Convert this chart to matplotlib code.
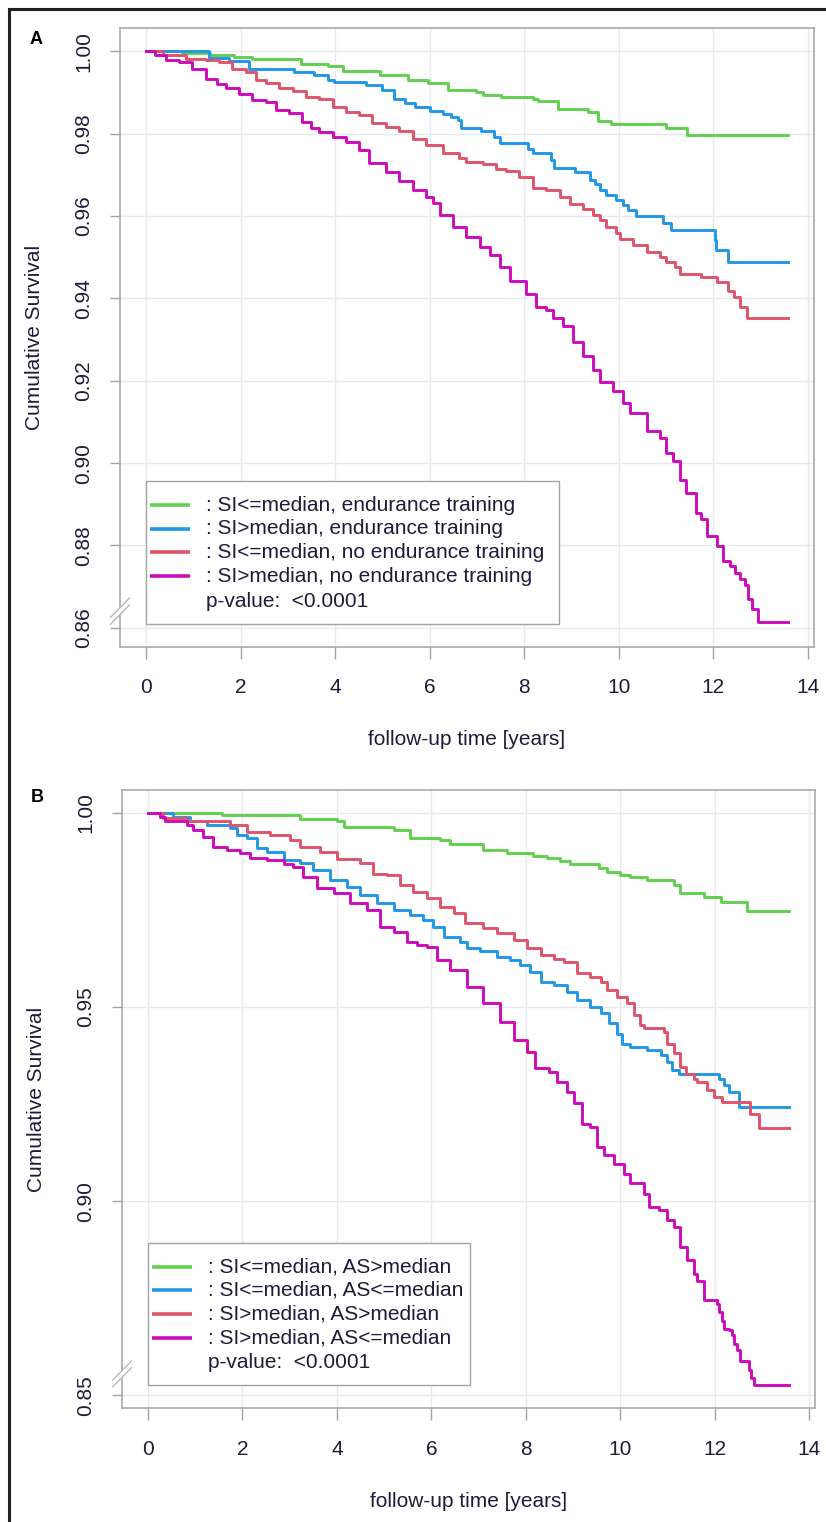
import matplotlib
matplotlib.use("Agg")
import matplotlib.pyplot as plt
from matplotlib.lines import Line2D
from matplotlib.patches import Rectangle, Polygon

plt.rcParams['font.family'] = ['Liberation Sans', 'DejaVu Sans']

# colours (R4 palette)
GREEN, BLUE, RED, MAGENTA = '#61D04F', '#2297E6', '#DF536B', '#CD0BBC'
TXT = '#1d1d3b'
AXC = '#a3a3a3'
GRID = '#e6e9f0'

# ---------------- panel A data (time in years, survival) ----------------
a_green_t = [0, 0.76, 1.35, 1.86, 2.25, 3.28, 3.84, 4.16, 4.94, 5.54, 5.96, 6.38, 6.98, 7.12,
             7.51, 8.18, 8.29, 8.71, 9.35, 9.56, 9.84, 11.0, 11.45, 13.59]
a_green_s = [1.0, 0.9997, 0.9992, 0.9986, 0.9981, 0.9970, 0.9964, 0.9952, 0.9942, 0.9930, 0.9923,
             0.9907, 0.9901, 0.9895, 0.9889, 0.9884, 0.9879, 0.9861, 0.9853, 0.9831, 0.9823,
             0.9813, 0.9798, 0.9798]

a_blue_t = [0, 1.33, 1.76, 2.18, 3.14, 3.56, 3.84, 3.98, 4.65, 5.0, 5.25, 5.47, 5.68, 6.0, 6.28,
            6.45, 6.59, 6.67, 7.09, 7.37, 7.48, 8.08, 8.18, 8.57, 8.64, 9.07, 9.39, 9.5, 9.6,
            9.74, 9.95, 10.09, 10.2, 10.37, 10.94, 11.11, 12.03, 12.06, 12.32, 13.59]
a_blue_s = [1.0, 0.9985, 0.9976, 0.9958, 0.9950, 0.9942, 0.9930, 0.9926, 0.9918, 0.9905, 0.9885,
            0.9875, 0.9865, 0.9855, 0.9849, 0.9841, 0.9834, 0.9813, 0.9806, 0.9792, 0.9778,
            0.9764, 0.9752, 0.9736, 0.9716, 0.9706, 0.9687, 0.9678, 0.9663, 0.9651, 0.9639,
            0.9627, 0.9615, 0.9600, 0.9584, 0.9566, 0.9542, 0.9518, 0.9488, 0.9488]

a_red_t = [0, 0.35, 0.84, 1.26, 1.55, 1.82, 2.11, 2.33, 2.54, 2.82, 3.1, 3.38, 3.67, 3.95, 4.23,
           4.51, 4.79, 5.08, 5.36, 5.64, 5.93, 6.28, 6.63, 6.77, 7.13, 7.41, 7.62, 7.9, 8.18,
           8.47, 8.75, 8.96, 9.24, 9.46, 9.6, 9.74, 9.95, 10.02, 10.3, 10.59, 10.87, 11.01,
           11.19, 11.29, 11.75, 12.07, 12.32, 12.43, 12.56, 12.71, 13.59]
a_red_s = [1.0, 0.9990, 0.9982, 0.9978, 0.9974, 0.9958, 0.9950, 0.9930, 0.9922, 0.9910, 0.9904,
           0.9889, 0.9885, 0.9865, 0.9853, 0.9845, 0.9825, 0.9817, 0.9806, 0.9786, 0.9772,
           0.9752, 0.9742, 0.9732, 0.9726, 0.9714, 0.9710, 0.9695, 0.9669, 0.9663, 0.9647,
           0.9629, 0.9617, 0.9602, 0.9590, 0.9574, 0.9558, 0.9544, 0.9530, 0.9513, 0.9501,
           0.9489, 0.9477, 0.9459, 0.9453, 0.9441, 0.9417, 0.9404, 0.9380, 0.9352, 0.9352]

a_mag_t = [0, 0.2, 0.42, 0.7, 0.98, 1.26, 1.5, 1.69, 1.97, 2.25, 2.54, 2.75, 3.03, 3.31, 3.5,
           3.67, 3.95, 4.23, 4.51, 4.72, 5.08, 5.36, 5.64, 5.93, 6.07, 6.21, 6.49, 6.77, 7.06,
           7.27, 7.48, 7.69, 8.04, 8.26, 8.47, 8.61, 8.82, 9.03, 9.24, 9.46, 9.6, 9.88, 10.09,
           10.23, 10.59, 10.87, 11.01, 11.15, 11.29, 11.43, 11.64, 11.75, 11.86, 12.07, 12.21,
           12.35, 12.46, 12.56, 12.67, 12.74, 12.81, 12.95, 13.59]
a_mag_s = [1.0, 0.9990, 0.9978, 0.9974, 0.9958, 0.9934, 0.9920, 0.9910, 0.9897, 0.9881, 0.9877,
           0.9857, 0.9850, 0.9829, 0.9815, 0.9804, 0.9792, 0.9780, 0.9760, 0.9728, 0.9707,
           0.9685, 0.9663, 0.9647, 0.9631, 0.9602, 0.9574, 0.9548, 0.9526, 0.9505, 0.9477,
           0.9443, 0.9411, 0.9380, 0.9372, 0.9352, 0.9332, 0.9295, 0.9259, 0.9227, 0.9198,
           0.9174, 0.9146, 0.9122, 0.9077, 0.9061, 0.9025, 0.9004, 0.8960, 0.8928, 0.8879,
           0.8863, 0.8823, 0.8798, 0.8762, 0.8750, 0.8734, 0.8718, 0.8705, 0.8669, 0.8645,
           0.8613, 0.8613]

# ---------------- panel B data ----------------
b_green_t = [0, 1.56, 3.22, 4.0, 4.14, 5.2, 5.55, 6.19, 6.4, 7.1, 7.6, 8.16, 8.45, 8.73, 8.94,
             9.54, 9.72, 10.0, 10.21, 10.57, 11.13, 11.27, 11.77, 12.12, 12.68, 13.57]
b_green_s = [1.0, 0.9995, 0.9984, 0.9979, 0.9965, 0.9956, 0.9935, 0.9930, 0.9919, 0.9905, 0.9896,
             0.9890, 0.9883, 0.9875, 0.9869, 0.9857, 0.9849, 0.9840, 0.9834, 0.9827, 0.9814,
             0.9795, 0.9784, 0.9771, 0.9748, 0.9748]

b_blue_t = [0, 0.54, 0.89, 1.24, 1.74, 1.88, 2.09, 2.3, 2.51, 2.87, 3.22, 3.5, 3.86, 4.21, 4.49,
            4.85, 5.2, 5.55, 5.83, 6.04, 6.26, 6.61, 6.75, 7.03, 7.39, 7.67, 7.88, 8.09, 8.31,
            8.59, 8.87, 9.08, 9.36, 9.58, 9.75, 9.93, 10.04, 10.21, 10.57, 10.85, 10.99, 11.09,
            11.24, 12.09, 12.2, 12.3, 12.51, 13.57]
b_blue_s = [1.0, 0.9990, 0.9978, 0.9969, 0.9960, 0.9943, 0.9935, 0.9909, 0.9900, 0.9879, 0.9870,
            0.9853, 0.9827, 0.9810, 0.9789, 0.9767, 0.9750, 0.9737, 0.9724, 0.9707, 0.9680,
            0.9668, 0.9651, 0.9645, 0.9630, 0.9621, 0.9608, 0.9591, 0.9565, 0.9557, 0.9539,
            0.9518, 0.9501, 0.9484, 0.9458, 0.9432, 0.9406, 0.9398, 0.9389, 0.9376, 0.9359,
            0.9338, 0.9329, 0.9316, 0.9299, 0.9282, 0.9243, 0.9243]

b_red_t = [0, 0.32, 0.82, 1.74, 2.09, 2.58, 3.01, 3.22, 3.64, 4.0, 4.49, 4.77, 5.06, 5.34, 5.62,
           5.9, 6.19, 6.47, 6.72, 7.1, 7.39, 7.74, 8.02, 8.31, 8.59, 8.8, 9.08, 9.36, 9.58, 9.72,
           9.93, 10.14, 10.28, 10.42, 10.49, 10.92, 10.99, 11.13, 11.27, 11.38, 11.55, 11.62,
           11.84, 11.98, 12.16, 12.75, 12.93, 13.57]
b_red_s = [1.0, 0.9986, 0.9978, 0.9969, 0.9952, 0.9943, 0.9930, 0.9912, 0.9900, 0.9881, 0.9870,
           0.9843, 0.9840, 0.9814, 0.9797, 0.9780, 0.9758, 0.9743, 0.9716, 0.9704, 0.9691,
           0.9673, 0.9651, 0.9634, 0.9625, 0.9617, 0.9588, 0.9578, 0.9565, 0.9544, 0.9527,
           0.9510, 0.9480, 0.9454, 0.9445, 0.9436, 0.9406, 0.9381, 0.9346, 0.9329, 0.9316,
           0.9308, 0.9286, 0.9269, 0.9256, 0.9226, 0.9190, 0.9190]

b_mag_t = [0, 0.25, 0.36, 0.82, 0.96, 1.17, 1.38, 1.67, 1.95, 2.16, 2.51, 2.87, 3.08, 3.29, 3.57,
           3.93, 4.28, 4.63, 4.92, 5.2, 5.48, 5.69, 5.9, 6.12, 6.4, 6.75, 7.1, 7.46, 7.74, 8.02,
           8.2, 8.48, 8.66, 8.87, 9.02, 9.19, 9.36, 9.51, 9.65, 9.86, 10.07, 10.21, 10.49, 10.6,
           10.81, 10.99, 11.13, 11.27, 11.41, 11.55, 11.62, 11.77, 12.05, 12.08, 12.15, 12.2,
           12.29, 12.36, 12.4, 12.47, 12.53, 12.72, 12.77, 12.82, 13.58]
b_mag_s = [1.0, 0.9990, 0.9978, 0.9969, 0.9956, 0.9939, 0.9913, 0.9905, 0.9896, 0.9883, 0.9879,
           0.9868, 0.9862, 0.9836, 0.9806, 0.9793, 0.9767, 0.9750, 0.9707, 0.9694, 0.9668,
           0.9660, 0.9655, 0.9621, 0.9595, 0.9552, 0.9510, 0.9462, 0.9415, 0.9385, 0.9342,
           0.9333, 0.9308, 0.9282, 0.9252, 0.9200, 0.9192, 0.9140, 0.9119, 0.9097, 0.9071,
           0.9046, 0.9020, 0.8985, 0.8977, 0.8951, 0.8934, 0.8882, 0.8848, 0.8813, 0.8796,
           0.8745, 0.8736, 0.8715, 0.8693, 0.8672, 0.8668, 0.8655, 0.8633, 0.8616, 0.8589,
           0.8566, 0.8546, 0.8526, 0.8526]

a_labels = [': SI<=median, endurance training', ': SI>median, endurance training',
            ': SI<=median, no endurance training', ': SI>median, no endurance training']
b_labels = [': SI<=median, AS>median', ': SI<=median, AS<=median',
            ': SI>median, AS>median', ': SI>median, AS<=median']
pval_text = 'p-value:  <0.0001'
colors = [GREEN, BLUE, RED, MAGENTA]

a_yticks = [0.86, 0.88, 0.90, 0.92, 0.94, 0.96, 0.98, 1.00]
b_yticks = [0.85, 0.90, 0.95, 1.00]
xticks = [0, 2, 4, 6, 8, 10, 12, 14]

W, H = 826, 1522
fig = plt.figure(figsize=(W / 100, H / 100), dpi=100)


def make_axes(left, top, right, bottom):
    return fig.add_axes([left / W, 1 - bottom / H, (right - left) / W, (bottom - top) / H])


def style(ax, yticks, ylim, box_right, brk_y):
    ax.set_xlim(-0.55, 14.12)
    ax.set_ylim(*ylim)
    ax.set_xticks(xticks)
    ax.set_yticks(yticks)
    ax.set_yticklabels(['%.2f' % v for v in yticks], rotation=90, va='center')
    ax.grid(True, color=GRID, lw=1.0, zorder=0)
    ax.set_axisbelow(True)
    for sp in ax.spines.values():
        sp.set_color(AXC)
        sp.set_linewidth(1.1)
    ax.tick_params(axis='x', length=8.5, width=1.0, color=AXC, pad=14, labelsize=15, labelcolor=TXT)
    ax.tick_params(axis='y', length=7.2, width=1.0, color=AXC, pad=12, labelsize=15, labelcolor=TXT)
    ax.set_xlabel('follow-up time [years]', fontsize=15, color=TXT, va='center')
    ax.xaxis.set_label_coords(0.5, -0.150)
    ax.set_ylabel('Cumulative Survival', fontsize=15, color=TXT, va='center')
    ax.yaxis.set_label_coords(-0.123, 0.5)

    # axis break on the left axis
    hx, hy, gap = 0.0135, 0.0155, 0.011
    ax.add_patch(Polygon([(-hx, brk_y - hy), (hx, brk_y + hy), (hx, brk_y + hy + gap),
                          (-hx, brk_y - hy + gap)], closed=True, transform=ax.transAxes,
                         facecolor='white', edgecolor='none', clip_on=False, zorder=5))
    for off in (0, gap):
        ax.add_line(Line2D([-hx, hx], [brk_y - hy + off, brk_y + hy + off], transform=ax.transAxes,
                           color='#b8b8b8', lw=1.0, clip_on=False, zorder=6))

    # legend box
    ax.add_patch(Rectangle((0.0375, 0.037), box_right - 0.0375, 0.231, transform=ax.transAxes,
                           facecolor='white', edgecolor=AXC, lw=1.0, zorder=8))


def legend(ax, labels):
    y0, dy = 0.2290, 0.0383
    for i, (lab, c) in enumerate(zip(labels, colors)):
        y = y0 - i * dy
        ax.add_line(Line2D([0.043, 0.101], [y, y], transform=ax.transAxes, color=c, lw=2.6,
                           solid_capstyle='butt', zorder=9))
        ax.text(0.1235, y, lab, transform=ax.transAxes, fontsize=15, color=TXT,
                va='center', ha='left', zorder=9)
    ax.text(0.1235, y0 - 4 * dy - 0.002, pval_text, transform=ax.transAxes, fontsize=15,
            color=TXT, va='center', ha='left', zorder=9)


# ---------------- panel A ----------------
axA = make_axes(120, 28.3, 813.5, 646.7)
for t, s, c in [(a_green_t, a_green_s, GREEN), (a_blue_t, a_blue_s, BLUE),
                (a_red_t, a_red_s, RED), (a_mag_t, a_mag_s, MAGENTA)]:
    axA.step(t, s, where='post', color=c, lw=2.1, zorder=3)
style(axA, a_yticks, (0.8554, 1.0056), 0.6335, 0.052)
legend(axA, a_labels)

# ---------------- panel B ----------------
axB = make_axes(122, 790, 815, 1408.3)
for t, s, c in [(b_green_t, b_green_s, GREEN), (b_blue_t, b_blue_s, BLUE),
                (b_red_t, b_red_s, RED), (b_mag_t, b_mag_s, MAGENTA)]:
    axB.step(t, s, where='post', color=c, lw=2.1, zorder=3)
style(axB, b_yticks, (0.8467, 1.0059), 0.502, 0.050)
legend(axB, b_labels)

# panel letters
fig.text(36 / W, 1 - 40 / H, 'A', fontsize=13, fontweight='bold', color='black', ha='center', va='center')
fig.text(37 / W, 1 - 797 / H, 'B', fontsize=13, fontweight='bold', color='black', ha='center', va='center')

# outer frame (left and top)
fig.add_artist(Line2D([9 / W, 9 / W], [0, 1 - 9 / H], transform=fig.transFigure, color='#202020', lw=2.2))
fig.add_artist(Line2D([9 / W, 1], [1 - 9 / H, 1 - 9 / H], transform=fig.transFigure, color='#202020', lw=2.2))

fig.savefig('out.png', dpi=100)
